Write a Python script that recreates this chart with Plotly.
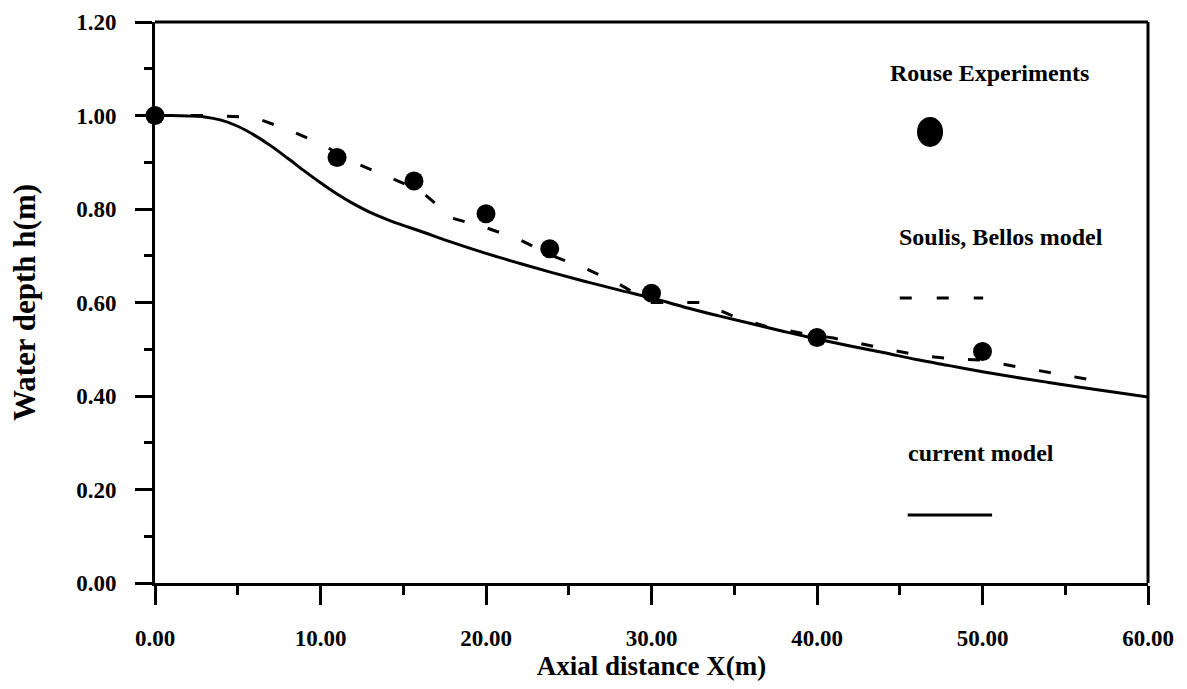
import plotly.graph_objects as go

# ---- data ----
rouse_x = [0.0, 11.0, 15.65, 20.0, 23.85, 30.0, 40.0, 50.0]
rouse_y = [1.00, 0.91, 0.86, 0.79, 0.715, 0.62, 0.525, 0.495]

soulis_x = [0, 3, 6, 8, 10, 12, 14, 16, 18, 20, 22, 24, 26, 28, 30, 33, 35, 37, 39, 41, 44, 46, 48, 50, 52, 55, 57]
soulis_y = [1.0, 1.0, 0.996, 0.97, 0.94, 0.90, 0.87, 0.84, 0.78, 0.76, 0.735, 0.70, 0.673, 0.64, 0.60,
            0.60, 0.57, 0.548, 0.535, 0.524, 0.502, 0.488, 0.48, 0.477, 0.463, 0.445, 0.432]

current_x = [0, 1, 2, 3, 4, 5, 6, 7, 8, 9, 10, 11, 12, 13, 14, 15, 16, 18, 20, 22, 24, 26, 28, 30,
             32, 34, 36, 38, 40, 42, 44, 46, 48, 50, 52, 54, 56, 58, 60]
current_y = [1.000, 1.000, 0.999, 0.997, 0.990, 0.977, 0.958, 0.935, 0.909, 0.882, 0.856, 0.832,
             0.811, 0.793, 0.778, 0.765, 0.753, 0.728, 0.705, 0.684, 0.664, 0.645, 0.627, 0.610,
             0.590, 0.572, 0.555, 0.538, 0.522, 0.507, 0.493, 0.478, 0.465, 0.452, 0.440, 0.429,
             0.418, 0.408, 0.398]

x_label = "Axial distance X(m)"
y_label = "Water depth h(m)"
legend_labels = ["Rouse Experiments", "Soulis, Bellos model", "current model"]

FONT = "Liberation Serif"

fig = go.Figure()
fig.add_trace(go.Scatter(x=current_x, y=current_y, mode="lines", line=dict(color="black", width=3, shape="spline"),
                         name=legend_labels[2], cliponaxis=False))
fig.add_trace(go.Scatter(x=soulis_x, y=soulis_y, mode="lines", line=dict(color="black", width=3, dash="12px,24px"),
                         name=legend_labels[1]))
fig.add_trace(go.Scatter(x=rouse_x, y=rouse_y, mode="markers", marker=dict(color="black", size=19),
                         name=legend_labels[0], cliponaxis=False))

tickfont = dict(family=FONT, size=23, color="black", weight="bold")
fig.update_xaxes(range=[0, 60], dtick=10, tick0=0, tickformat=".2f", showgrid=False, zeroline=False,
                 showline=True, linecolor="black", linewidth=3, ticks="outside", ticklen=19, tickwidth=3,
                 tickcolor="black", tickfont=tickfont, ticklabelstandoff=13,
                 minor=dict(dtick=5, ticks="outside", ticklen=9, tickwidth=3, tickcolor="black", showgrid=False),
                 title=dict(text=x_label, font=dict(family=FONT, size=27, color="black", weight="bold"), standoff=2))
fig.update_yaxes(range=[0, 1.2], dtick=0.2, tick0=0, tickformat=".2f", showgrid=False, zeroline=False,
                 showline=True, linecolor="black", linewidth=3, ticks="outside", ticklen=17, tickwidth=3,
                 tickcolor="black", tickfont=tickfont, ticklabelstandoff=14,
                 minor=dict(dtick=0.1, ticks="outside", ticklen=8, tickwidth=3, tickcolor="black", showgrid=False),
                 title=dict(text=y_label, font=dict(family=FONT, size=31, color="black", weight="bold"), standoff=32))

shapes = [
    dict(type="line", xref="paper", yref="paper", x0=0, x1=1, y0=1, y1=1, line=dict(color="black", width=3)),
    dict(type="line", xref="paper", yref="paper", x0=1, x1=1, y0=0, y1=1, line=dict(color="black", width=3)),
    # legend symbols
    dict(type="circle", xref="paper", yref="paper", xsizemode="pixel", ysizemode="pixel",
         xanchor=0.7805, yanchor=0.804, x0=-13, x1=13, y0=-15, y1=15,
         fillcolor="black", line=dict(color="black", width=0)),
    dict(type="line", xref="paper", yref="paper", x0=0.750, x1=0.834, y0=0.508, y1=0.508,
         line=dict(color="black", width=3, dash="12px,25px")),
    dict(type="line", xref="paper", yref="paper", x0=0.758, x1=0.843, y0=0.121, y1=0.121,
         line=dict(color="black", width=3)),
]
legfont = dict(family=FONT, size=24, color="black", weight="bold")
annotations = [
    dict(text=legend_labels[0], xref="paper", yref="paper", x=0.840, y=0.909, showarrow=False, font=legfont,
         xanchor="center", yanchor="middle"),
    dict(text=legend_labels[1], xref="paper", yref="paper", x=0.852, y=0.617, showarrow=False, font=legfont,
         xanchor="center", yanchor="middle"),
    dict(text=legend_labels[2], xref="paper", yref="paper", x=0.832, y=0.232, showarrow=False, font=legfont,
         xanchor="center", yanchor="middle"),
]

fig.update_layout(width=1187, height=689, margin=dict(l=155, r=39, t=22, b=106, autoexpand=False),
                  plot_bgcolor="white", paper_bgcolor="white", showlegend=False,
                  shapes=shapes, annotations=annotations, font=dict(family=FONT, color="black"))

fig.write_html("out.html", config={"displayModeBar": False},
               post_script="document.body.style.margin='0px';")
